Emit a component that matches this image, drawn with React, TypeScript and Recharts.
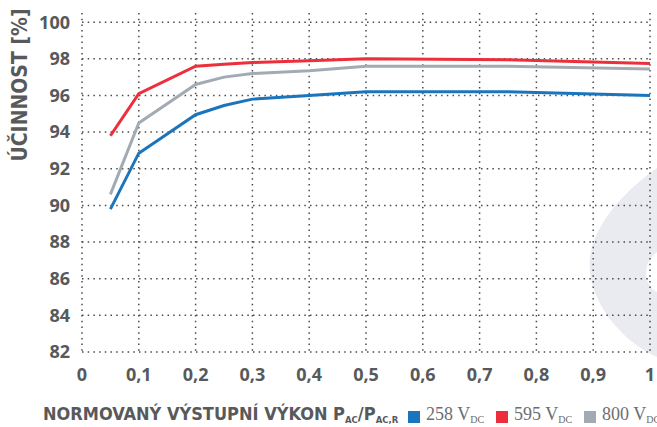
import React from 'react';
import { LineChart, Line, XAxis, YAxis, CartesianGrid, Legend } from 'recharts';

const loads = [0.05, 0.1, 0.2, 0.25, 0.3, 0.4, 0.5, 0.75, 1];
const eff258 = [89.8, 92.85, 94.95, 95.45, 95.8, 96.0, 96.2, 96.2, 96.0];
const eff595 = [93.8, 96.1, 97.6, 97.7, 97.8, 97.9, 98.0, 97.95, 97.75];
const eff800 = [90.6, 94.5, 96.6, 97.0, 97.2, 97.35, 97.6, 97.6, 97.45];
const xTicks = [0, 0.1, 0.2, 0.3, 0.4, 0.5, 0.6, 0.7, 0.8, 0.9, 1];
const yTicks = [82, 84, 86, 88, 90, 92, 94, 96, 98, 100];
const seriesNames = ['258', '595', '800'];
const seriesColors = ['#1b75bc', '#ec2f3a', '#a2abb4'];

const data = loads.map((x, i) => ({ x, s258: eff258[i], s595: eff595[i], s800: eff800[i] }));

const boldFont = "'Liberation Sans Narrow', 'DejaVu Sans Condensed', sans-serif";
const tickFont = "'Open Sans', sans-serif";
const textColor = '#58595b';

const subStyle = { fontSize: 9.5, verticalAlign: '-3px' };

const LegendContent = () => (
  <div style={{ position: 'relative', width: 657, height: 30 }}>
    <div style={{ position: 'absolute', left: 43, top: 8, fontFamily: boldFont, fontWeight: 700, fontSize: 18, color: textColor, whiteSpace: 'nowrap', lineHeight: '18px' }}>
      NORMOVANÝ VÝSTUPNÍ VÝKON P<sub style={subStyle}>AC</sub>/P<sub style={subStyle}>AC,R</sub>
    </div>
    {seriesNames.map((n, i) => (
      <div key={n} style={{ position: 'absolute', left: [408, 496, 584][i], top: 8, display: 'flex', alignItems: 'center', whiteSpace: 'nowrap', fontFamily: "'Liberation Serif', serif", fontSize: 18, color: '#6d6e71', lineHeight: '18px' }}>
        <span style={{ display: 'inline-block', width: 12, height: 12, background: seriesColors[i], marginRight: 6 }} />
        <span>{n} V<sub style={{ fontSize: 10, verticalAlign: '-3px' }}>DC</sub></span>
      </div>
    ))}
  </div>
);

const YLabel = () => (
  <text x={27} y={85} transform="rotate(-90, 27, 85)" textAnchor="middle" fontFamily={boldFont} fontWeight={700} fontSize={21} fill={textColor}>
    ÚČINNOST [%]
  </text>
);

export default function App() {
  return (
    <div style={{ position: 'absolute', left: 0, top: 0, width: 657, height: 427, background: '#fff' }}>
      <svg width={657} height={427} style={{ position: 'absolute', left: 0, top: 0 }}>
        <path d="M657,168 C612,200 586,238 590,272 C594,308 624,342 657,357 L657,292 C644,286 641,264 657,252 Z" fill="#e9ebf0" />
      </svg>
      <div style={{ position: 'absolute', left: 0, top: 0 }}>
        <LineChart width={657} height={427} data={data} margin={{ top: 13, right: 7, left: 22, bottom: 0 }}>
          <CartesianGrid stroke="#4a4a4a" strokeWidth={1.5} strokeDasharray="1.5 4.2" horizontalValues={yTicks} verticalValues={xTicks} />
          <XAxis
            dataKey="x"
            type="number"
            domain={[0, 1]}
            ticks={xTicks}
            axisLine={false}
            tickLine={false}
            tickMargin={10}
            height={45}
            tickFormatter={(v: number) => (v === 0 || v === 1 ? String(v) : v.toFixed(1).replace('.', ','))}
            tick={{ fontFamily: tickFont, fontWeight: 700, fontSize: 18, fill: textColor }}
          />
          <YAxis
            type="number"
            domain={[82, 100.5]}
            ticks={yTicks}
            axisLine={false}
            tickLine={false}
            tickMargin={6}
            width={60}
            tick={{ fontFamily: tickFont, fontWeight: 700, fontSize: 18, fill: textColor }}
            label={{ content: () => <YLabel /> }}
          />
          <Legend verticalAlign="bottom" align="left" wrapperStyle={{ left: 0, width: 657, height: 30 }} content={() => <LegendContent />} />
          <Line type="linear" dataKey="s258" stroke={seriesColors[0]} strokeWidth={3} dot={false} isAnimationActive={false} />
          <Line type="linear" dataKey="s800" stroke={seriesColors[2]} strokeWidth={3} dot={false} isAnimationActive={false} />
          <Line type="linear" dataKey="s595" stroke={seriesColors[1]} strokeWidth={3} dot={false} isAnimationActive={false} />
        </LineChart>
      </div>
    </div>
  );
}
